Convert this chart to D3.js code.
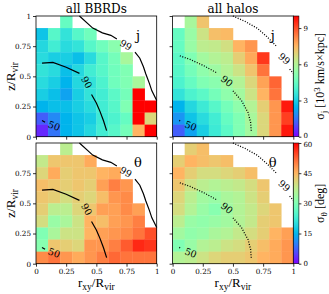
<!DOCTYPE html>
<html>
<head>
<meta charset="utf-8">
<script src="https://cdn.jsdelivr.net/npm/d3@7"></script>
<style>
body { margin: 0; background: #fff; }
text { font-family: "DejaVu Serif", serif; fill: #000; }
.lab { font-family: "Liberation Serif", "DejaVu Serif", serif; }
</style>
</head>
<body>
<div class="container"></div>
<script>
const WIDTH = 329;
const HEIGHT = 294;

// bin edges (lower edge of each 0.1 cell)
const rBins = [0, 0.1, 0.2, 0.3, 0.4, 0.5, 0.6, 0.7, 0.8, 0.9];
// rows are listed from top (z=0.9) down to z=0
const zBins = [0.9, 0.8, 0.7, 0.6, 0.5, 0.4, 0.3, 0.2, 0.1, 0];

const axisTicks = [0, 0.25, 0.5, 0.75, 1];
const jTicks = [0, 3, 6, 9];
const thTicks = [0, 15, 30, 45, 60];

// sigma_j [10^3 km/s x kpc], all BBRDs
const sigJBbrd = [
    [null, null, 4.5, null, null, null, null, null, null, null],
    [2.8, 4.2, 3.5, 4.2, 4.7, null, null, null, null, null],
    [3.2, 3.8, 3.3, 3.5, 4.2, 4.7, 5.2, null, null, null],
    [3.3, 3.0, 3.0, 2.7, 3.3, 4.2, 4.8, 5.8, null, null],
    [3.5, 3.3, 2.7, 3.2, 3.8, 4.2, 4.7, 5.0, null, null],
    [3.3, 3.0, 2.5, 3.2, 3.5, 4.0, 4.7, 5.0, 5.8, null],
    [3.0, 2.7, 2.2, 3.0, 3.5, 3.8, 4.3, 4.8, 10, null],
    [2.5, 2.7, 2.7, 3.0, 3.3, 3.8, 4.2, 5.0, 10, 10],
    [1.2, 1.8, 2.5, 2.8, 3.0, 3.7, 4.0, 4.5, 10, 6.8],
    [0.5, 1.5, 2.5, 2.8, 3.2, 3.8, 4.2, 4.8, 7.5, 10]
];

// sigma_j, all halos
const sigJHalo = [
    [null, 5.8, 7.2, null, null, null, null, null, null, null],
    [4.5, 5.5, 6.5, 7.3, 7.4, null, null, null, null, null],
    [4.5, 5.5, 6.2, 6.3, 6.6, 7.5, 8.0, null, null, null],
    [4.3, 5.0, 5.7, 6.0, 6.2, 7.0, 7.7, 9.3, null, null],
    [4.2, 4.8, 5.3, 5.6, 6.0, 6.5, 7.2, 8.5, null, null],
    [4.0, 4.5, 5.0, 5.2, 5.7, 6.0, 6.8, 7.8, 8.7, null],
    [3.5, 4.0, 4.3, 4.8, 5.3, 5.7, 6.5, 7.5, 8.5, null],
    [2.5, 3.2, 3.7, 4.2, 4.8, 5.3, 6.0, 7.0, 8.0, 9.7],
    [2.0, 2.8, 3.3, 3.8, 4.5, 5.0, 5.8, 6.8, 8.0, 9.2],
    [1.2, 2.2, 3.0, 3.7, 4.3, 5.0, 5.7, 6.8, 8.0, 9.7]
];

// sigma_theta [deg], all BBRDs
const sigThBbrd = [
    [null, null, 37, null, null, null, null, null, null, null],
    [38, 43, 43, 43, 46, null, null, null, null, null],
    [41, 46, 42, 43, 43, 45, 46, null, null, null],
    [44, 43, 42, 43, 42, 47, 50, 48, null, null],
    [43, 42, 40, 42, 41, 44, 48, 49, null, null],
    [42, 37, 37, 41, 43, 47, 47, 49, 47, null],
    [40, 33, 35, 39, 45, 44, 47, 48, 50, null],
    [30, 35, 39, 39, 45, 47, 48, 49, 51, 54],
    [31, 43, 42, 41, 48, 48, 50, 53, 57, 56],
    [49, 51, 48, 46, 48, 50, 52, 51, 51, 51]
];

// sigma_theta, all halos
const sigThHalo = [
    [null, 42, 44, null, null, null, null, null, null, null],
    [42, 45, 44, 43, 44, null, null, null, null, null],
    [45, 42, 40, 40, 41, 42, 44, null, null, null],
    [43, 39, 37, 36, 37, 38, 40, 43, null, null],
    [41, 37, 34, 33, 35, 36, 39, 42, null, null],
    [40, 36, 33, 31, 34, 36, 38, 41, 43, null],
    [37, 33, 32, 33, 34, 36, 38, 42, 43, null],
    [34, 32, 33, 35, 36, 38, 40, 42, 45, 47],
    [30, 33, 36, 37, 39, 40, 42, 44, 46, 48],
    [36, 37, 39, 41, 42, 42, 43, 45, 46, 48]
];

// percentile contours (r_xy, z), broken where the label sits
const bbrd99 = [
    [[0.36, 1.0], [0.47, 0.9], [0.55, 0.86], [0.62, 0.84], [0.67, 0.81]],
    [[0.82, 0.70], [0.86, 0.65], [0.89, 0.58], [0.91, 0.52], [0.94, 0.44], [0.96, 0.38], [1.0, 0.3]]
];
const bbrd90 = [
    [[0.05, 0.61], [0.14, 0.615], [0.25, 0.575], [0.36, 0.525]],
    [[0.46, 0.35], [0.5, 0.28], [0.53, 0.21], [0.56, 0.13], [0.585, 0.05]]
];
const bbrd50 = [
    [[0.05, 0.135], [0.075, 0.12]]
];
const halo99 = [
    [[0.5, 1.0], [0.6, 0.955], [0.7, 0.9], [0.78, 0.83], [0.86, 0.75]],
    [[0.97, 0.56], [1.0, 0.525]]
];
const halo90 = [
    [[0.06, 0.67], [0.145, 0.64], [0.255, 0.59], [0.365, 0.53]],
    [[0.5, 0.38], [0.57, 0.3], [0.625, 0.2], [0.646, 0.12], [0.652, 0.045]]
];
const halo50 = [
    [[0.055, 0.135], [0.07, 0.128]]
];

// contour labels: [r_xy, z, text, angle]
const bbrdLabels = [[0.745, 0.76, "99", 28], [0.42, 0.45, "90", 60], [0.15, 0.09, "50", 20]];
const haloLabels = [[0.925, 0.645, "99", 42], [0.45, 0.46, "90", 38], [0.15, 0.09, "50", 20]];

// matplotlib "rainbow" colormap
var rainbow = function (t) {
    t = Math.max(0, Math.min(1, t));
    var r = Math.min(1, Math.abs(2 * t - 0.5));
    var g = Math.sin(Math.PI * t);
    var b = Math.cos(Math.PI * t / 2);
    return d3.rgb(r * 255, g * 255, b * 255).formatHex();
};

const LEFT = [36, 172.6];
const TOP = [16, 143];
const PW = 120.7;
const PH = 120.7;
const CB_W = 5.6;

var translate = function (x, y) {
    return "translate(" + x + "," + y + ")";
};

var svg = d3.select('.container').append('svg')
    .attr('width', WIDTH)
    .attr('height', HEIGHT);

var xScale = d3.scaleLinear().domain([0, 1]).range([0, PW]);
var yScale = d3.scaleLinear().domain([0, 1]).range([PH, 0]);
var fmt = d3.format("~g");

var panels = [
    {col: 0, row: 0, grid: sigJBbrd, vmax: 10, lines: [bbrd99, bbrd90, bbrd50], labels: bbrdLabels, dotted: false, tag: "j"},
    {col: 1, row: 0, grid: sigJHalo, vmax: 10, lines: [halo99, halo90, halo50], labels: haloLabels, dotted: true, tag: "j"},
    {col: 0, row: 1, grid: sigThBbrd, vmax: 60, lines: [bbrd99, bbrd90, bbrd50], labels: bbrdLabels, dotted: false, tag: "θ"},
    {col: 1, row: 1, grid: sigThHalo, vmax: 60, lines: [halo99, halo90, halo50], labels: haloLabels, dotted: true, tag: "θ"}
];

var line = d3.line()
    .x(function (d) { return xScale(d[0]); })
    .y(function (d) { return yScale(d[1]); });

panels.forEach(function (p) {
    var g = svg.append('g').attr('transform', translate(LEFT[p.col], TOP[p.row]));
    var color = d3.scaleLinear().domain([0, p.vmax]).range([0, 1]).clamp(true);

    var cells = [];
    p.grid.forEach(function (rowVals, i) {
        rowVals.forEach(function (v, j) {
            if (v !== null) cells.push({r: rBins[j], z: zBins[i], v: v});
        });
    });

    g.selectAll('rect.cell')
        .data(cells)
        .enter()
        .append('rect')
        .attr('x', function (d) { return xScale(d.r); })
        .attr('y', function (d) { return yScale(d.z + 0.1); })
        .attr('width', xScale(0.1) - xScale(0) + 0.3)
        .attr('height', yScale(0) - yScale(0.1) + 0.3)
        .attr('fill', function (d) { return rainbow(color(d.v)); });

    p.lines.forEach(function (segs) {
        segs.forEach(function (seg) {
            g.append('path')
                .attr('d', line(seg))
                .attr('fill', 'none')
                .attr('stroke', '#000')
                .attr('stroke-width', p.dotted ? 1.3 : 1.2)
                .attr('stroke-dasharray', p.dotted ? '1,1.6' : null);
        });
    });

    p.labels.forEach(function (l) {
        g.append('text')
            .attr('transform', translate(xScale(l[0]), yScale(l[1])) + " rotate(" + l[3] + ")")
            .attr('text-anchor', 'middle')
            .attr('dy', '0.35em')
            .style('font-size', '9.5px')
            .text(l[2]);
    });

    g.append('text')
        .attr('x', p.col === 0 ? xScale(0.845) : xScale(0.83))
        .attr('y', yScale(0.8))
        .attr('text-anchor', 'middle')
        .style('font-size', '13px')
        .text(p.tag);

    // axes
    var ax = g.append('g').attr('transform', translate(0, PH))
        .call(d3.axisBottom(xScale).tickValues(axisTicks).tickSize(3).tickPadding(2)
            .tickFormat(p.row === 1 ? fmt : ""));
    var ay = g.append('g')
        .call(d3.axisLeft(yScale).tickValues(p.row === 1 ? axisTicks.slice(0, 4) : axisTicks)
            .tickSize(3).tickPadding(2).tickFormat(p.col === 0 ? fmt : ""));
    [ax, ay].forEach(function (a) {
        a.select('.domain').remove();
        a.selectAll('text').style('font-family', '"DejaVu Serif", serif').style('font-size', '7.2px');
        a.selectAll('line').attr('stroke-width', 0.8);
    });

    g.append('rect')
        .attr('width', PW).attr('height', PH)
        .attr('fill', 'none').attr('stroke', '#000').attr('stroke-width', 0.8);

    if (p.row === 1) {
        var xl = g.append('text').attr('class', 'lab')
            .attr('x', PW / 2).attr('y', PH + 23)
            .attr('text-anchor', 'middle')
            .style('font-size', '13px');
        xl.append('tspan').text('r');
        xl.append('tspan').attr('dy', 3).style('font-size', '9.5px').text('xy');
        xl.append('tspan').attr('dy', -3).text('/R');
        xl.append('tspan').attr('dy', 3).style('font-size', '9.5px').text('vir');
    }
    if (p.col === 0) {
        var yl = g.append('text').attr('class', 'lab')
            .attr('transform', translate(-21, PH / 2) + " rotate(-90)")
            .attr('text-anchor', 'middle')
            .style('font-size', '13px');
        yl.append('tspan').text('z/R');
        yl.append('tspan').attr('dy', 3).style('font-size', '9.5px').text('vir');
    }
});

// colorbars
var defs = svg.append('defs');
var grad = defs.append('linearGradient').attr('id', 'cmap')
    .attr('x1', 0).attr('y1', 1).attr('x2', 0).attr('y2', 0);
d3.range(0, 1.0001, 0.02).forEach(function (t) {
    grad.append('stop').attr('offset', t).attr('stop-color', rainbow(t));
});

var bars = [
    {row: 0, vmax: 10, ticks: jTicks, sym: "j", unit: true},
    {row: 1, vmax: 60, ticks: thTicks, sym: "θ", unit: false}
];
bars.forEach(function (b) {
    var g = svg.append('g').attr('transform', translate(LEFT[1] + PW, TOP[b.row]));
    var cScale = d3.scaleLinear().domain([0, b.vmax]).range([PH, 0]);
    g.append('rect').attr('width', CB_W).attr('height', PH).attr('fill', 'url(#cmap)')
        .attr('stroke', '#000').attr('stroke-width', 0.6);
    var a = g.append('g').attr('transform', translate(CB_W, 0))
        .call(d3.axisRight(cScale).tickValues(b.ticks).tickSize(2.5).tickPadding(2));
    a.select('.domain').remove();
    a.selectAll('text').style('font-family', '"DejaVu Serif", serif').style('font-size', '7px');
    a.selectAll('line').attr('stroke-width', 0.8);
    // nudge the end labels apart where the two bars meet
    a.selectAll('.tick text')
        .attr('dy', function (d) {
            if (b.row === 0 && d === 0) return '0.1em';
            if (b.row === 1 && d === b.vmax) return '0.5em';
            return '0.32em';
        });

    var t = g.append('text').attr('class', 'lab')
        .attr('transform', translate(CB_W + 25, PH / 2) + " rotate(-90)")
        .attr('text-anchor', 'middle')
        .style('font-size', '12px');
    t.append('tspan').text('σ');
    t.append('tspan').attr('dy', 3).style('font-size', '9px').text(b.sym);
    if (b.unit) {
        t.append('tspan').attr('dy', -3).text(' [10');
        t.append('tspan').attr('dy', -4).style('font-size', '9px').text('3');
        t.append('tspan').attr('dy', 4).text(' km/s×kpc]');
    } else {
        t.append('tspan').attr('dy', -3).text(' [deg]');
    }
});

// titles
svg.append('text').attr('x', LEFT[0] + PW / 2).attr('y', 12.5)
    .attr('text-anchor', 'middle').style('font-size', '12px').text('all BBRDs');
svg.append('text').attr('x', LEFT[1] + PW / 2).attr('y', 12.5)
    .attr('text-anchor', 'middle').style('font-size', '12px').text('all halos');
</script>
</body>
</html>
